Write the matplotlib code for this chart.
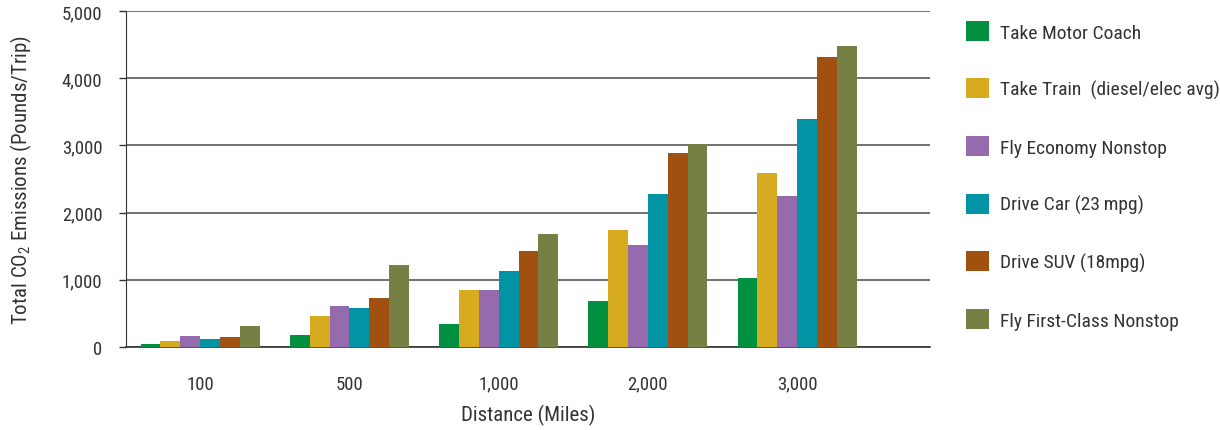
import matplotlib
matplotlib.use("Agg")
import matplotlib.pyplot as plt
import numpy as np
from matplotlib.patches import Patch

plt.rcParams['font.family'] = ['Roboto Condensed', 'Barlow Semi Condensed', 'Roboto', 'DejaVu Sans']
plt.rcParams['mathtext.fontset'] = 'custom'
plt.rcParams['mathtext.rm'] = 'Roboto Condensed'
plt.rcParams['mathtext.default'] = 'rm'

distances = ["100", "500", "1,000", "2,000", "3,000"]
series_names = [
    "Take Motor Coach",
    "Take Train  (diesel/elec avg)",
    "Fly Economy Nonstop",
    "Drive Car (23\u2009mpg)",
    "Drive SUV (18mpg)",
    "Fly First-Class Nonstop",
]
motor_coach = [48, 180, 338, 691, 1020]
train = [92, 458, 853, 1735, 2595]
fly_economy = [165, 605, 853, 1515, 2250]
drive_car = [122, 575, 1132, 2278, 3400]
drive_suv = [150, 722, 1426, 2886, 4313]
fly_first = [312, 1220, 1676, 3020, 4480]
colors = ["#009040", "#D6AB1F", "#956BAD", "#0294A5", "#A0510F", "#768045"]

series = [motor_coach, train, fly_economy, drive_car, drive_suv, fly_first]

fig = plt.figure(figsize=(12.2, 4.31), dpi=100)
ax = fig.add_axes([126/1220, 1-348/431, (930-126)/1220, (348-12)/431])

x = np.arange(len(distances))
w = 0.133
for i, (vals, c, name) in enumerate(zip(series, colors, series_names)):
    ax.bar(x + (i - 2.5) * w, vals, width=w, color=c, label=name, zorder=3)

ax.set_xlim(-0.497, 4.89)
ax.set_ylim(0, 5000)
ax.set_yticks([0, 1000, 2000, 3000, 4000, 5000])
ax.set_yticklabels(["0", "1,000", "2,000", "3,000", "4,000", "5,000"])
ax.set_xticks(x)
ax.set_xticklabels(distances)
txtc = "#333333"
ax.tick_params(axis='x', length=0, pad=20, labelsize=13.5, colors=txtc)
ax.tick_params(axis='y', length=5, width=1, pad=12, labelsize=13.5, colors=txtc, direction='out')
ax.yaxis.grid(True, color="#4a4a4a", linewidth=1.1, zorder=0)
for s in ["top", "right"]:
    ax.spines[s].set_visible(False)
ax.spines["left"].set_color("#333333")
ax.spines["bottom"].set_color("#333333")
ax.spines["bottom"].set_linewidth(1.2)
ax.set_xlabel("Distance (Miles)", fontsize=15, color=txtc, labelpad=8)
ax.set_ylabel("Total CO$_2$ Emissions (Pounds/Trip)", fontsize=15, color=txtc, labelpad=20)

handles = [Patch(facecolor=c, edgecolor='none') for c in colors]
fig.legend(handles, series_names, loc="upper left",
           bbox_to_anchor=(966/1220, 1-22/431), frameon=False,
           fontsize=14, handlelength=1.2, handleheight=1.2,
           labelspacing=1.9, handletextpad=0.55, labelcolor=txtc,
           borderaxespad=0, borderpad=0)

fig.savefig("out.png", dpi=100)
